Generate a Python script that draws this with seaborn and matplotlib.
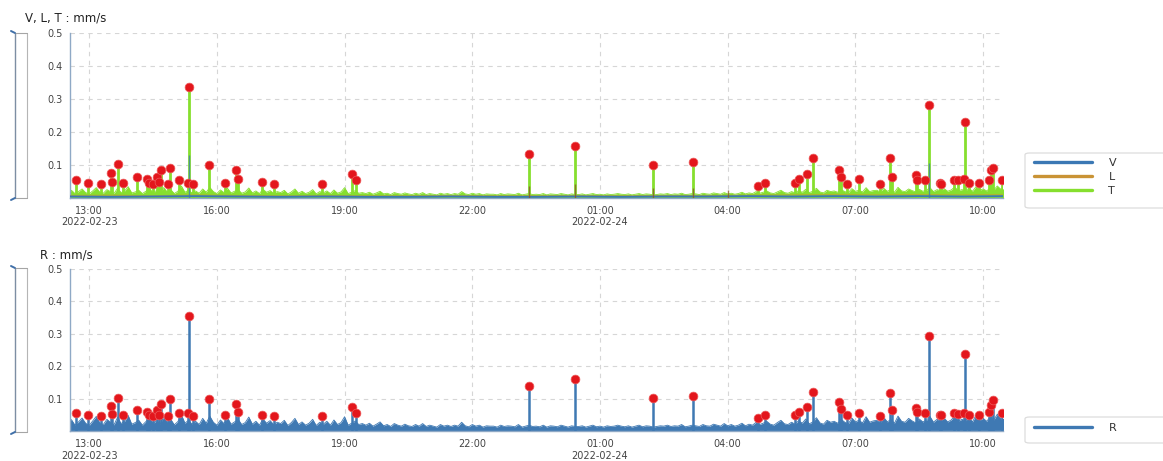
import numpy as np
import pandas as pd
import matplotlib
matplotlib.use("Agg")
import matplotlib.pyplot as plt
from matplotlib.patches import FancyBboxPatch
from matplotlib.lines import Line2D
import seaborn as sns

# ---------------- data ----------------
BASE_START = "2022-02-23 12:30"
# T baseline, mm/s x1000, every 5 minutes (one row per hour from 12:30)
T_base = [
    14, 22, 12, 18, 26, 15, 11, 20, 30, 16, 13, 24,
    18, 12, 28, 15, 20, 33, 14, 17, 22, 12, 19, 27,
    15, 21, 13, 30, 17, 24, 12, 19, 35, 16, 22, 14,
    20, 13, 26, 16, 31, 18, 12, 23, 15, 28, 14, 19,
    24, 13, 17, 29, 14, 20, 12, 25, 16, 21, 13, 18,
    15, 22, 11, 17, 26, 13, 19, 12, 16, 24, 11, 18,
    14, 20, 12, 23, 13, 17, 30, 12, 16, 21, 13, 15,
    12, 16, 10, 14, 19, 11, 13, 9, 15, 12, 10, 14,
    11, 9, 13, 10, 15, 9, 12, 10, 8, 13, 10, 12,
    9, 12, 10, 18, 11, 9, 13, 10, 12, 8, 11, 10,
    10, 8, 12, 9, 11, 10, 9, 13, 8, 10, 12, 9,
    10, 9, 12, 8, 11, 10, 9, 12, 10, 8, 11, 9,
    9, 11, 8, 10, 12, 9, 10, 8, 11, 9, 10, 12,
    10, 9, 11, 8, 10, 12, 9, 11, 10, 8, 9, 11,
    10, 12, 9, 11, 10, 13, 9, 10, 12, 11, 9, 13,
    11, 10, 14, 12, 10, 15, 11, 13, 10, 12, 16, 11,
    14, 12, 18, 13, 16, 20, 14, 12, 17, 22, 15, 13,
    18, 14, 21, 16, 25, 15, 19, 28, 17, 14, 22, 18,
    20, 16, 24, 18, 15, 27, 19, 22, 17, 30, 18, 21,
    22, 17, 28, 19, 24, 16, 31, 20, 18, 26, 21, 17,
    25, 19, 22, 30, 18, 24, 20, 27, 19, 23, 32, 20,
    24, 21, 28, 19, 33, 22, 26, 20, 29, 23, 35, 25,
    27,
]
# R baseline, mm/s x1000, every 5 minutes
R_base = [
    22, 35, 18, 28, 40, 24, 17, 31, 45, 25, 20, 36,
    27, 19, 42, 23, 30, 48, 21, 26, 33, 18, 29, 40,
    23, 32, 20, 44, 26, 36, 19, 29, 50, 24, 33, 21,
    30, 20, 39, 24, 46, 27, 18, 34, 23, 41, 21, 28,
    36, 20, 26, 43, 21, 30, 18, 37, 24, 32, 20, 27,
    23, 33, 17, 26, 39, 20, 28, 18, 24, 36, 17, 27,
    21, 30, 18, 34, 20, 26, 44, 18, 24, 31, 20, 23,
    18, 24, 15, 21, 28, 16, 20, 14, 23, 18, 15, 21,
    16, 14, 20, 15, 23, 14, 18, 15, 12, 20, 15, 18,
    14, 18, 15, 27, 16, 13, 20, 15, 18, 12, 16, 15,
    15, 12, 18, 14, 16, 15, 13, 20, 12, 15, 18, 14,
    15, 13, 18, 12, 16, 15, 13, 18, 15, 12, 16, 14,
    14, 16, 12, 15, 18, 13, 15, 12, 16, 14, 15, 18,
    15, 13, 16, 12, 15, 18, 13, 16, 15, 12, 14, 16,
    15, 18, 14, 16, 15, 20, 13, 15, 18, 16, 14, 20,
    16, 15, 21, 18, 15, 23, 16, 20, 15, 18, 24, 16,
    21, 18, 27, 20, 24, 30, 21, 18, 26, 33, 22, 20,
    27, 21, 32, 24, 37, 22, 28, 41, 25, 21, 33, 27,
    30, 24, 36, 27, 22, 40, 28, 33, 25, 44, 27, 31,
    33, 25, 42, 28, 36, 24, 46, 30, 27, 39, 31, 25,
    37, 28, 33, 45, 27, 36, 30, 40, 28, 34, 47, 30,
    36, 31, 42, 28, 49, 33, 39, 30, 43, 34, 52, 37,
    40,
]
# V and L baselines, mm/s x1000, hourly from 12:30
V_base = [3, 2, 3, 4, 3, 2, 3, 2, 2, 3, 2, 2, 3, 2, 3, 3, 4, 3, 4, 3, 4, 3, 4]
L_base = [6, 7, 5, 8, 6, 5, 6, 5, 5, 6, 5, 5, 6, 5, 6, 6, 7, 8, 9, 8, 9, 8, 9]

# Alarm events (red markers): time, T value, R value
event_times = [
    "2022-02-23 12:41", "2022-02-23 12:59", "2022-02-23 13:17", "2022-02-23 13:31",
    "2022-02-23 13:32", "2022-02-23 13:41", "2022-02-23 13:47", "2022-02-23 14:08",
    "2022-02-23 14:21", "2022-02-23 14:25", "2022-02-23 14:30", "2022-02-23 14:36",
    "2022-02-23 14:39", "2022-02-23 14:41", "2022-02-23 14:51", "2022-02-23 14:54",
    "2022-02-23 15:06", "2022-02-23 15:21", "2022-02-23 15:20", "2022-02-23 15:26",
    "2022-02-23 15:49", "2022-02-23 16:12", "2022-02-23 16:27", "2022-02-23 16:30",
    "2022-02-23 17:03", "2022-02-23 17:20", "2022-02-23 18:28", "2022-02-23 19:10",
    "2022-02-23 19:16", "2022-02-23 23:20", "2022-02-24 00:25", "2022-02-24 02:15",
    "2022-02-24 03:11", "2022-02-24 04:42", "2022-02-24 04:52", "2022-02-24 05:35",
    "2022-02-24 05:40", "2022-02-24 05:52", "2022-02-24 06:00", "2022-02-24 06:37",
    "2022-02-24 06:39", "2022-02-24 06:48", "2022-02-24 07:05", "2022-02-24 07:34",
    "2022-02-24 07:49", "2022-02-24 07:51", "2022-02-24 08:25", "2022-02-24 08:27",
    "2022-02-24 08:38", "2022-02-24 08:43", "2022-02-24 08:59", "2022-02-24 09:01",
    "2022-02-24 09:19", "2022-02-24 09:24", "2022-02-24 09:33", "2022-02-24 09:34",
    "2022-02-24 09:40", "2022-02-24 09:54", "2022-02-24 10:08", "2022-02-24 10:11",
    "2022-02-24 10:14", "2022-02-24 10:26",
]
T_peak = [
    0.052, 0.045, 0.042, 0.075, 0.047, 0.101, 0.045, 0.062,
    0.057, 0.045, 0.042, 0.062, 0.047, 0.083, 0.042, 0.091,
    0.052, 0.336, 0.045, 0.042, 0.098, 0.045, 0.083, 0.055,
    0.047, 0.042, 0.042, 0.073, 0.052, 0.131, 0.156, 0.098,
    0.108, 0.035, 0.045, 0.045, 0.057, 0.073, 0.119, 0.083,
    0.062, 0.042, 0.055, 0.042, 0.119, 0.062, 0.067, 0.052,
    0.054, 0.282, 0.045, 0.042, 0.054, 0.052, 0.057, 0.231,
    0.045, 0.045, 0.052, 0.083, 0.091, 0.052,
]
R_peak = [
    0.055, 0.048, 0.045, 0.078, 0.053, 0.101, 0.048, 0.065,
    0.058, 0.050, 0.047, 0.066, 0.050, 0.082, 0.047, 0.098,
    0.055, 0.355, 0.055, 0.045, 0.099, 0.048, 0.083, 0.058,
    0.050, 0.045, 0.045, 0.075, 0.055, 0.139, 0.160, 0.102,
    0.108, 0.040, 0.048, 0.048, 0.058, 0.075, 0.120, 0.088,
    0.068, 0.048, 0.055, 0.045, 0.117, 0.065, 0.070, 0.058,
    0.055, 0.293, 0.050, 0.048, 0.055, 0.052, 0.055, 0.238,
    0.048, 0.048, 0.060, 0.080, 0.095, 0.055,
]
V_spike_times = ["2022-02-23 15:21", "2022-02-24 08:43"]
V_spike = [0.13, 0.105]
L_spike_times = ["2022-02-23 23:20", "2022-02-24 00:25", "2022-02-24 02:15",
                 "2022-02-24 03:11", "2022-02-24 04:00"]
L_spike = [0.035, 0.04, 0.03, 0.03, 0.022]

series_top = ["V", "L", "T"]
series_bottom = ["R"]
tick_times = ["2022-02-23 13:00", "2022-02-23 16:00", "2022-02-23 19:00", "2022-02-23 22:00",
              "2022-02-24 01:00", "2022-02-24 04:00", "2022-02-24 07:00", "2022-02-24 10:00"]
tick_labels = ["13:00\n2022-02-23", "16:00", "19:00", "22:00",
               "01:00\n2022-02-24", "04:00", "07:00", "10:00"]
y_ticks = [0.1, 0.2, 0.3, 0.4, 0.5]
x_range = ("2022-02-23 12:33", "2022-02-24 10:28")

# ---------------- style ----------------
sns.set_theme(style="white")
plt.rcParams['font.family'] = ['DejaVu Sans']

C_V = "#3b78b4"
C_L = "#c99335"
C_T = "#86df2e"
C_R = "#3f79b3"
C_MARK = "#e3161c"
C_MARK_EDGE = "#ee5a5a"
GRID = "#d6d6d6"
SPINE = "#8fa9c6"
TXT = "#444444"

W, H = 1163, 461
fig = plt.figure(figsize=(W / 100, H / 100), dpi=100)
fig.patch.set_facecolor("white")

ax1 = fig.add_axes([70 / W, (H - 197.5) / H, 933 / W, (197.5 - 33.3) / H])
ax2 = fig.add_axes([70 / W, (H - 431) / H, 933 / W, (431 - 268.7) / H])

t5 = pd.date_range(BASE_START, periods=len(T_base), freq="5min")
th = pd.date_range(BASE_START, periods=len(V_base), freq="60min")
T_vals = np.array(T_base) / 1000.0
R_vals = np.array(R_base) / 1000.0
V_vals = np.array(V_base) / 1000.0
L_vals = np.array(L_base) / 1000.0
ev_t = pd.to_datetime(event_times)
vs_t = pd.to_datetime(V_spike_times)
ls_t = pd.to_datetime(L_spike_times)

# ---- top chart ----
ax1.fill_between(t5, 0, T_vals, color=C_T, lw=0, zorder=2)
sns.lineplot(x=t5, y=T_vals, ax=ax1, color=C_T, lw=0.6, estimator=None, zorder=2)
ax1.vlines(ev_t, 0, T_peak, color=C_T, lw=2.0, zorder=3)
sns.lineplot(x=th, y=L_vals, ax=ax1, color=C_L, lw=0.9, alpha=0.6, estimator=None, zorder=4)
sns.lineplot(x=th, y=V_vals, ax=ax1, color=C_V, lw=1.4, estimator=None, zorder=4)
ax1.vlines(vs_t, 0, V_spike, color=C_V, lw=1.0, alpha=0.75, zorder=4)
ax1.vlines(ls_t, 0, L_spike, color="#8a5a2a", lw=1.0, alpha=0.8, zorder=4)
sns.scatterplot(x=ev_t, y=T_peak, ax=ax1, color=C_MARK, s=40,
                edgecolor=C_MARK_EDGE, linewidth=0.5, zorder=6)

# ---- bottom chart ----
ax2.fill_between(t5, 0, R_vals, color=C_R, lw=0, zorder=2)
sns.lineplot(x=t5, y=R_vals, ax=ax2, color=C_R, lw=0.6, estimator=None, zorder=2)
ax2.vlines(ev_t, 0, R_peak, color=C_R, lw=1.8, zorder=3)
sns.scatterplot(x=ev_t, y=R_peak, ax=ax2, color=C_MARK, s=40,
                edgecolor=C_MARK_EDGE, linewidth=0.5, zorder=6)

xt = pd.to_datetime(tick_times)
for ax in (ax1, ax2):
    ax.set_xlim(pd.Timestamp(x_range[0]), pd.Timestamp(x_range[1]))
    ax.set_ylim(0, 0.5)
    ax.set_xticks(xt)
    ax.set_xticklabels(tick_labels)
    ax.set_yticks(y_ticks)
    ax.set_yticklabels([f"{v:.1f}" for v in y_ticks])
    ax.set_xlabel("")
    ax.set_ylabel("")
    ax.grid(True, linestyle=(0, (4, 4)), color=GRID, lw=0.8, zorder=0)
    ax.set_axisbelow(True)
    for s in ("top", "right"):
        ax.spines[s].set_visible(False)
    for s in ("left", "bottom"):
        ax.spines[s].set_color(SPINE)
        ax.spines[s].set_linewidth(1.0)
    ax.tick_params(axis="both", labelsize=7, colors=TXT, length=3, width=0.8,
                   direction="out", pad=2)
    ax.tick_params(axis="x", color=SPINE, pad=3)
    ax.tick_params(axis="y", color=SPINE)
    if ax.get_legend() is not None:
        ax.get_legend().remove()

fig.text(25 / W, 1 - 18 / H, "V, L, T : mm/s", fontsize=8.5, color="#222222", va="center")
fig.text(40 / W, 1 - 255 / H, "R : mm/s", fontsize=8.5, color="#222222", va="center")

# legend frames (extend past right edge like the reference)
for (y0, y1) in ((153, 208), (417, 443)):
    p = FancyBboxPatch((1025 / W, (H - y1) / H), 200 / W, (y1 - y0) / H,
                       boxstyle="round,pad=0,rounding_size=0.004",
                       transform=fig.transFigure, facecolor="white",
                       edgecolor="#dcdcdc", lw=0.9, zorder=1)
    fig.add_artist(p)

h_top = [Line2D([], [], color=c, lw=2.4) for c in (C_V, C_L, C_T)]
fig.legend(h_top, series_top, loc="upper left", bbox_to_anchor=(1034 / W, 1 - 158 / H),
           frameon=False, fontsize=8, handlelength=5.2, handletextpad=1.5,
           labelspacing=0.35, borderpad=0, borderaxespad=0, labelcolor="#333333")
h_bot = [Line2D([], [], color=C_R, lw=2.4)]
fig.legend(h_bot, series_bottom, loc="upper left", bbox_to_anchor=(1034 / W, 1 - 423 / H),
           frameon=False, fontsize=8, handlelength=5.2, handletextpad=1.5,
           borderpad=0, borderaxespad=0, labelcolor="#333333")

# range slider brackets on the left
for (ya, yb) in ((33, 198), (268, 432)):
    fy = lambda y: 1 - y / H
    fig.add_artist(Line2D([15 / W, 15 / W], [fy(ya), fy(yb)], color="#7d8ea3", lw=1.0,
                          transform=fig.transFigure))
    fig.add_artist(Line2D([27 / W, 27 / W], [fy(ya), fy(yb)], color="#b5b5b5", lw=0.8,
                          transform=fig.transFigure))
    fig.add_artist(Line2D([15 / W, 27 / W], [fy(ya), fy(ya)], color="#a5a5a5", lw=0.8,
                          transform=fig.transFigure))
    fig.add_artist(Line2D([15 / W, 27 / W], [fy(yb), fy(yb)], color="#a5a5a5", lw=0.8,
                          transform=fig.transFigure))
    fig.add_artist(Line2D([11 / W, 15 / W], [fy(ya - 2), fy(ya)], color="#3f6fa8", lw=1.4,
                          transform=fig.transFigure))
    fig.add_artist(Line2D([11 / W, 15 / W], [fy(yb + 2), fy(yb)], color="#3f6fa8", lw=1.4,
                          transform=fig.transFigure))

fig.savefig("out.png", dpi=100, facecolor="white")
